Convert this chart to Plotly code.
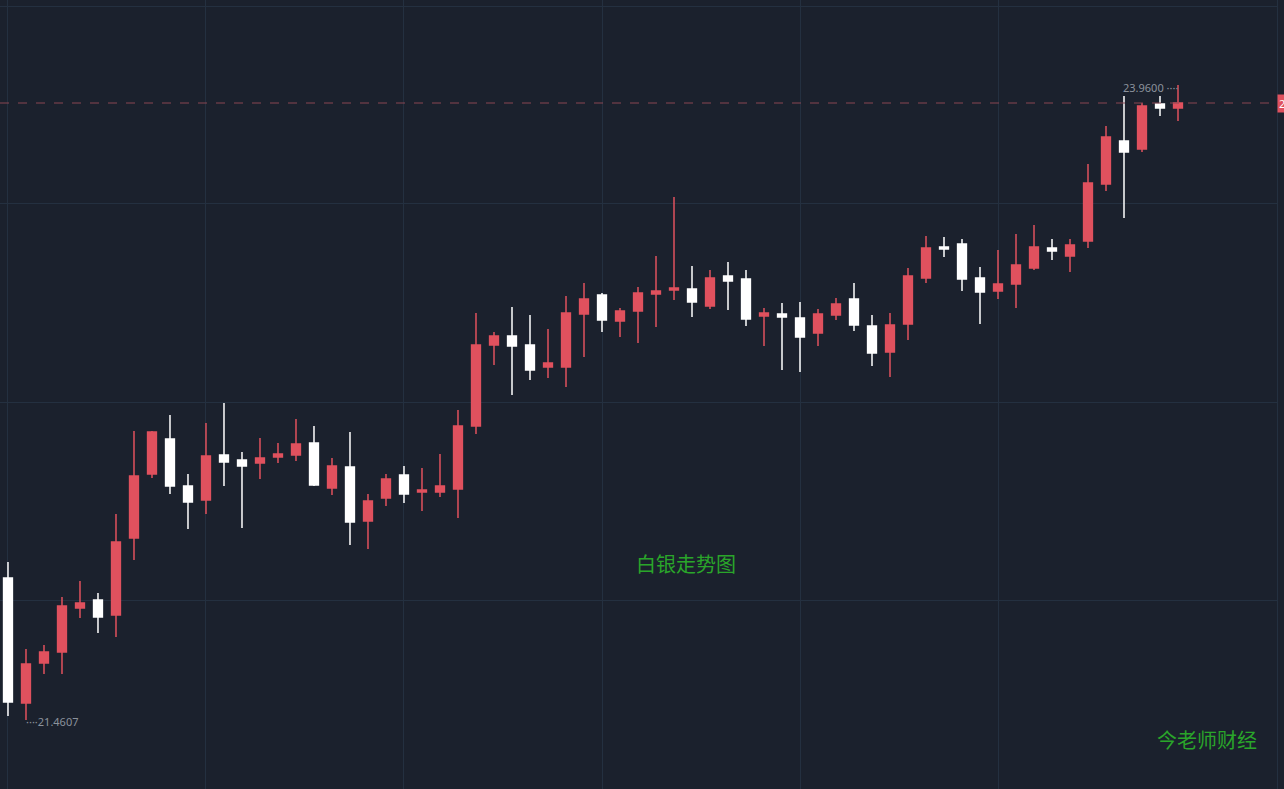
import plotly.graph_objects as go

# 白银 K线 (66 根)
opens = [22.0196, 21.5276, 21.6850, 21.7283, 21.9015, 21.9330, 21.8740, 22.1770, 22.4289, 22.5667,
         22.3817, 22.3266, 22.5037, 22.4840, 22.4722, 22.4959, 22.5037, 22.5510, 22.3738, 22.4565,
         22.2439, 22.3345, 22.4250, 22.3581, 22.3581, 22.3699, 22.6179, 22.9367, 22.9721, 22.9367,
         22.8501, 22.8501, 23.0587, 23.1335, 23.0311, 23.0705, 23.1374, 23.1532, 23.1571, 23.0902,
         23.2083, 23.1965, 23.0508, 23.0587, 23.0430, 22.9839, 23.0548, 23.1177, 23.0115, 22.9091,
         23.0193, 23.2004, 23.3224, 23.3342, 23.2004, 23.1492, 23.1768, 23.2398, 23.3185, 23.2870,
         23.3460, 23.5704, 23.7396, 23.7081, 23.8853, 23.8695]
highs = [22.0826, 21.7401, 21.7559, 21.9448, 22.0078, 21.9606, 22.2715, 22.5982, 22.5982, 22.6612,
         22.4289, 22.6297, 22.7084, 22.5155, 22.5706, 22.5510, 22.6454, 22.6179, 22.4919, 22.5943,
         22.3502, 22.4289, 22.4604, 22.4526, 22.5077, 22.6808, 23.0626, 22.9879, 23.0863, 23.0548,
         22.9997, 23.1295, 23.1807, 23.1414, 23.0823, 23.1650, 23.2870, 23.5192, 23.2476, 23.2319,
         23.2634, 23.2319, 23.0823, 23.1020, 23.1059, 23.0784, 23.1217, 23.1807, 23.0548, 23.0626,
         23.2398, 23.3657, 23.3618, 23.3539, 23.2437, 23.3106, 23.3736, 23.4090, 23.3539, 23.3539,
         23.6491, 23.7987, 23.9167, 23.8892, 23.9167, 23.9600]
lows = [21.4764, 21.4607, 21.6417, 21.6417, 21.8622, 21.8031, 21.7874, 22.0904, 22.4132, 22.3502,
        22.2125, 22.2715, 22.3817, 22.2164, 22.4093, 22.4722, 22.4801, 22.3817, 22.3463, 22.1495,
        22.1337, 22.3030, 22.3148, 22.2833, 22.3384, 22.2558, 22.5864, 22.8580, 22.7399, 22.7989,
        22.8068, 22.7714, 22.8895, 22.9879, 22.9682, 22.9446, 23.0075, 23.1138, 23.0469, 23.0784,
        23.0744, 23.0115, 22.9327, 22.8383, 22.8304, 22.9327, 23.0351, 22.9918, 22.8540, 22.8107,
        22.9564, 23.1807, 23.2831, 23.1492, 23.0193, 23.1177, 23.0823, 23.2319, 23.2712, 23.2240,
        23.3185, 23.5428, 23.4366, 23.6963, 23.8380, 23.8183]
closes = [21.5315, 21.6811, 21.7283, 21.9094, 21.9212, 21.8661, 22.1613, 22.4211, 22.5943, 22.3817,
          22.3187, 22.4998, 22.4762, 22.4604, 22.4919, 22.5077, 22.5470, 22.3856, 22.4604, 22.2400,
          22.3227, 22.4093, 22.3502, 22.3660, 22.3817, 22.6179, 22.9367, 22.9721, 22.9327, 22.8383,
          22.8658, 23.0626, 23.1177, 23.0351, 23.0705, 23.1414, 23.1492, 23.1610, 23.1059, 23.2004,
          23.1886, 23.0390, 23.0626, 23.0469, 22.9682, 23.0587, 23.0981, 23.0154, 22.9052, 23.0154,
          23.2083, 23.3185, 23.3145, 23.1965, 23.1453, 23.1768, 23.2516, 23.3224, 23.3067, 23.3303,
          23.5743, 23.7554, 23.6963, 23.8774, 23.8695, 23.8892]
bars = list(range(len(opens)))

# 网格位置
x_grid = [0, 11, 22, 33, 44, 55]
y_grid = [21.9330, 22.7123, 23.4917, 24.2710]

BG = '#1b212d'
GRID = '#243040'
RED = '#e0515e'
WHITE = '#ffffff'

fig = go.Figure()
fig.add_trace(go.Candlestick(
    x=bars,
    open=opens,
    high=highs,
    low=lows,
    close=closes,
    increasing=dict(line=dict(color=RED, width=1.5), fillcolor=RED),
    decreasing=dict(line=dict(color=WHITE, width=1.5), fillcolor=WHITE),
    whiskerwidth=0,
    hoverinfo='skip',
    showlegend=False
))

last_price = closes[-1]
fig.add_hline(y=last_price, line=dict(color='#8a4652', width=1, dash='dash'))

hi_idx = highs.index(max(highs))
lo_idx = lows.index(min(lows))
fig.add_annotation(x=hi_idx, y=highs[hi_idx], text=f"{highs[hi_idx]:.4f} ····",
                   xanchor='right', yanchor='middle', showarrow=False, xshift=2, yshift=-2,
                   font=dict(family='Noto Sans', size=11, color='#8b929c'))
fig.add_annotation(x=lo_idx, y=lows[lo_idx], text=f"····{lows[lo_idx]:.4f}",
                   xanchor='left', yanchor='middle', showarrow=False, xshift=-2, yshift=-1,
                   font=dict(family='Noto Sans', size=11, color='#8b929c'))

# 右侧最新价标签 (被图边裁切)
fig.add_annotation(x=1, xref='paper', y=last_price, text=f"{last_price:.4f}",
                   xanchor='left', yanchor='middle', showarrow=False,
                   bgcolor=RED, font=dict(family='Noto Sans', size=11, color=WHITE))

fig.add_annotation(x=0.537, xref='paper', y=0.265, yref='paper', text="白银走势图",
                   showarrow=False, font=dict(family='Noto Sans CJK SC', size=20, color='#2aa52a'))
fig.add_annotation(x=0.986, xref='paper', y=0.042, yref='paper', text="今老师财经",
                   xanchor='right', showarrow=False,
                   font=dict(family='Noto Sans CJK SC', size=20, color='#2aa52a'))

fig.update_layout(
    width=1284,
    height=789,
    margin=dict(l=0, r=7, t=0, b=0),
    plot_bgcolor=BG,
    paper_bgcolor=BG,
    xaxis=dict(range=[-0.444, 70.5], tickvals=x_grid, showticklabels=False,
               showgrid=True, gridcolor=GRID, gridwidth=1, zeroline=False,
               rangeslider=dict(visible=False), fixedrange=True),
    yaxis=dict(range=[21.1891, 24.2946], tickvals=y_grid, showticklabels=False,
               showgrid=True, gridcolor=GRID, gridwidth=1, zeroline=False,
               side='right', showline=True, linecolor=GRID, fixedrange=True),
    boxgap=0.3,
)

fig.write_html("out.html", config={'displayModeBar': False},
               post_script="document.body.style.margin='0';document.body.style.overflow='hidden';")
